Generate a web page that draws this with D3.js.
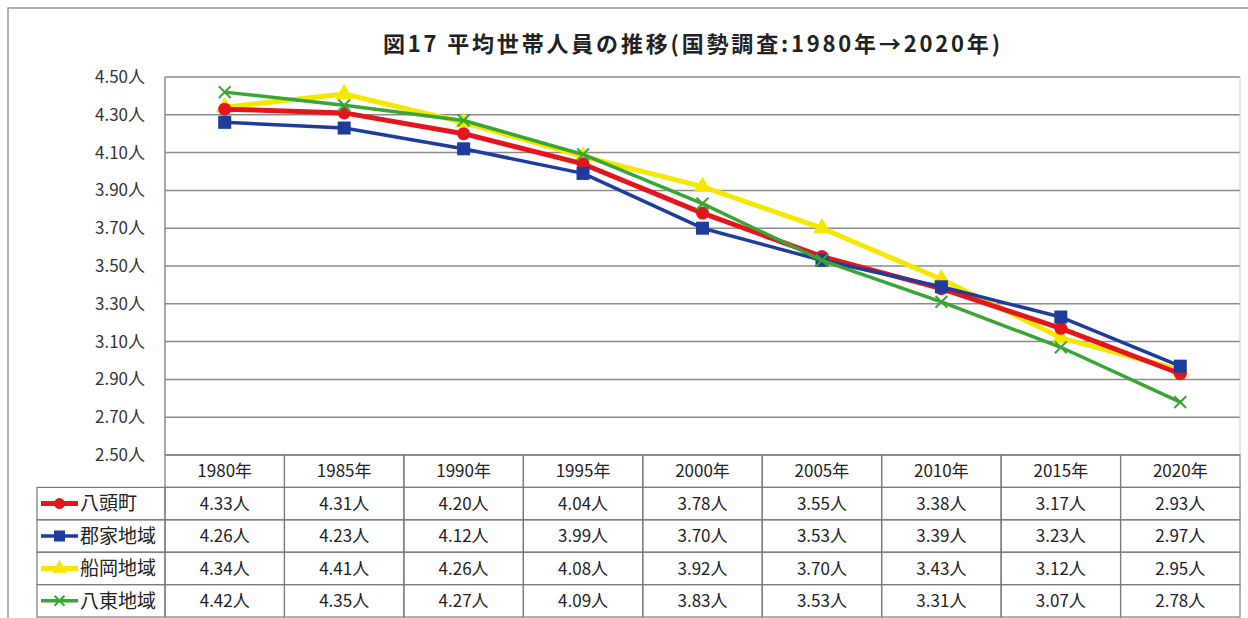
<!DOCTYPE html>
<html>
<head>
<meta charset="utf-8">
<script src="https://cdn.jsdelivr.net/npm/d3@7"></script>
<style>
  body { margin: 0; background: #fff; }
  svg { display: block; font-family: "Noto Sans CJK JP", "Noto Sans", sans-serif; }
</style>
</head>
<body>
<svg id="chart" width="1248" height="618"></svg>
<script>
// data
let years = ['1980年','1985年','1990年','1995年','2000年','2005年','2010年','2015年','2020年'];
let yatou   = [4.33, 4.31, 4.20, 4.04, 3.78, 3.55, 3.38, 3.17, 2.93];
let kouge   = [4.26, 4.23, 4.12, 3.99, 3.70, 3.53, 3.39, 3.23, 2.97];
let funaoka = [4.34, 4.41, 4.26, 4.08, 3.92, 3.70, 3.43, 3.12, 2.95];
let hattou  = [4.42, 4.35, 4.27, 4.09, 3.83, 3.53, 3.31, 3.07, 2.78];
let seriesNames = ['八頭町','郡家地域','船岡地域','八東地域'];
let yTicks = [2.5, 2.7, 2.9, 3.1, 3.3, 3.5, 3.7, 3.9, 4.1, 4.3, 4.5];

let series = [
  {name: seriesNames[0], values: yatou,   color: '#e3161d', w: 5,   mark: 'circle'},
  {name: seriesNames[1], values: kouge,   color: '#1f3c9c', w: 3.5, mark: 'square'},
  {name: seriesNames[2], values: funaoka, color: '#f4e800', w: 5,   mark: 'triangle'},
  {name: seriesNames[3], values: hattou,  color: '#39a535', w: 3.5, mark: 'x'}
];

let svg = d3.select('#chart');
let plotLeft = 165, plotRight = 1240, plotTop = 77, plotBottom = 455;
let rowH = 32.4;
let legendLeft = 37;

let x = d3.scaleBand().domain(years).range([plotLeft, plotRight]);
let y = d3.scaleLinear().domain([2.5, 4.5]).range([plotBottom, plotTop]);

// outer frame
svg.append('rect').attr('x', 8).attr('y', 8).attr('width', 1260).attr('height', 640)
  .attr('fill', 'none').attr('stroke', '#999').attr('stroke-width', 1.5);

// title
svg.append('text').attr('x', 383).attr('y', 52)
  .attr('font-size', 22).attr('font-weight', 'bold').attr('fill', '#222')
  .attr('textLength', 617).attr('lengthAdjust', 'spacing')
  .text('図17  平均世帯人員の推移(国勢調査:1980年→2020年)');

// gridlines
svg.append('g').selectAll('line').data(yTicks).enter().append('line')
  .attr('x1', plotLeft).attr('x2', plotRight)
  .attr('y1', d => y(d)).attr('y2', d => y(d))
  .attr('stroke', '#8a8a8a').attr('stroke-width', 1.5);
svg.append('line').attr('x1', plotLeft).attr('x2', plotLeft).attr('y1', plotTop).attr('y2', plotBottom)
  .attr('stroke', '#8a8a8a').attr('stroke-width', 1.5);
svg.append('line').attr('x1', plotRight).attr('x2', plotRight).attr('y1', plotTop).attr('y2', plotBottom)
  .attr('stroke', '#ccc').attr('stroke-width', 1);

// y axis labels
svg.append('g').selectAll('text').data(yTicks).enter().append('text')
  .attr('x', 145).attr('y', d => y(d)).attr('dy', '0.35em')
  .attr('text-anchor', 'end').attr('font-size', 17).attr('fill', '#333')
  .text(d => d3.format('.2f')(d) + '人');

// markers
function drawMark(g, type, cx, cy, color, s) {
  if (type === 'circle') {
    g.append('circle').attr('cx', cx).attr('cy', cy).attr('r', s / 2).attr('fill', color);
  } else if (type === 'square') {
    g.append('rect').attr('x', cx - s / 2).attr('y', cy - s / 2).attr('width', s).attr('height', s).attr('fill', color);
  } else if (type === 'triangle') {
    g.append('path').attr('d', d3.symbol(d3.symbolTriangle, s * s * 0.8)()).attr('transform', `translate(${cx},${cy})`).attr('fill', color);
  } else {
    let h = s / 2.2;
    g.append('path').attr('d', `M${cx - h},${cy - h}L${cx + h},${cy + h}M${cx - h},${cy + h}L${cx + h},${cy - h}`)
      .attr('stroke', color).attr('stroke-width', 2);
  }
}

let line = d3.line().x((d, i) => x(years[i]) + x.bandwidth() / 2).y(d => y(d));
let drawOrder = [2, 0, 1, 3];
drawOrder.forEach(k => {
  let s = series[k];
  let g = svg.append('g');
  g.append('path').datum(s.values).attr('d', line)
    .attr('fill', 'none').attr('stroke', s.color).attr('stroke-width', s.w).attr('stroke-linejoin', 'round');
  s.values.forEach((v, i) => drawMark(g, s.mark, x(years[i]) + x.bandwidth() / 2, y(v), s.color, 13));
});

// data table
let tbl = svg.append('g');
let tStroke = '#7a7a7a';
// header row
years.forEach(yr => {
  tbl.append('rect').attr('x', x(yr)).attr('y', plotBottom).attr('width', x.bandwidth()).attr('height', rowH)
    .attr('fill', 'none').attr('stroke', tStroke).attr('stroke-width', 1.2);
  tbl.append('text').attr('x', x(yr) + x.bandwidth() / 2).attr('y', plotBottom + rowH / 2).attr('dy', '0.36em')
    .attr('text-anchor', 'middle').attr('font-size', 17).attr('fill', '#222').text(yr);
});
series.forEach((s, r) => {
  let ry = plotBottom + rowH * (r + 1);
  tbl.append('rect').attr('x', legendLeft).attr('y', ry).attr('width', plotLeft - legendLeft).attr('height', rowH)
    .attr('fill', 'none').attr('stroke', tStroke).attr('stroke-width', 1.2);
  let lg = tbl.append('g');
  lg.append('line').attr('x1', 41).attr('x2', 78).attr('y1', ry + rowH / 2).attr('y2', ry + rowH / 2)
    .attr('stroke', s.color).attr('stroke-width', s.w);
  drawMark(lg, s.mark, 59.5, ry + rowH / 2, s.color, 11);
  tbl.append('text').attr('x', 80).attr('y', ry + rowH / 2).attr('dy', '0.36em')
    .attr('font-size', 19).attr('fill', '#222').text(s.name);
  years.forEach((yr, i) => {
    tbl.append('rect').attr('x', x(yr)).attr('y', ry).attr('width', x.bandwidth()).attr('height', rowH)
      .attr('fill', 'none').attr('stroke', tStroke).attr('stroke-width', 1.2);
    tbl.append('text').attr('x', x(yr) + x.bandwidth() / 2).attr('y', ry + rowH / 2).attr('dy', '0.36em')
      .attr('text-anchor', 'middle').attr('font-size', 17).attr('fill', '#222')
      .text(d3.format('.2f')(s.values[i]) + '人');
  });
});
</script>
</body>
</html>
